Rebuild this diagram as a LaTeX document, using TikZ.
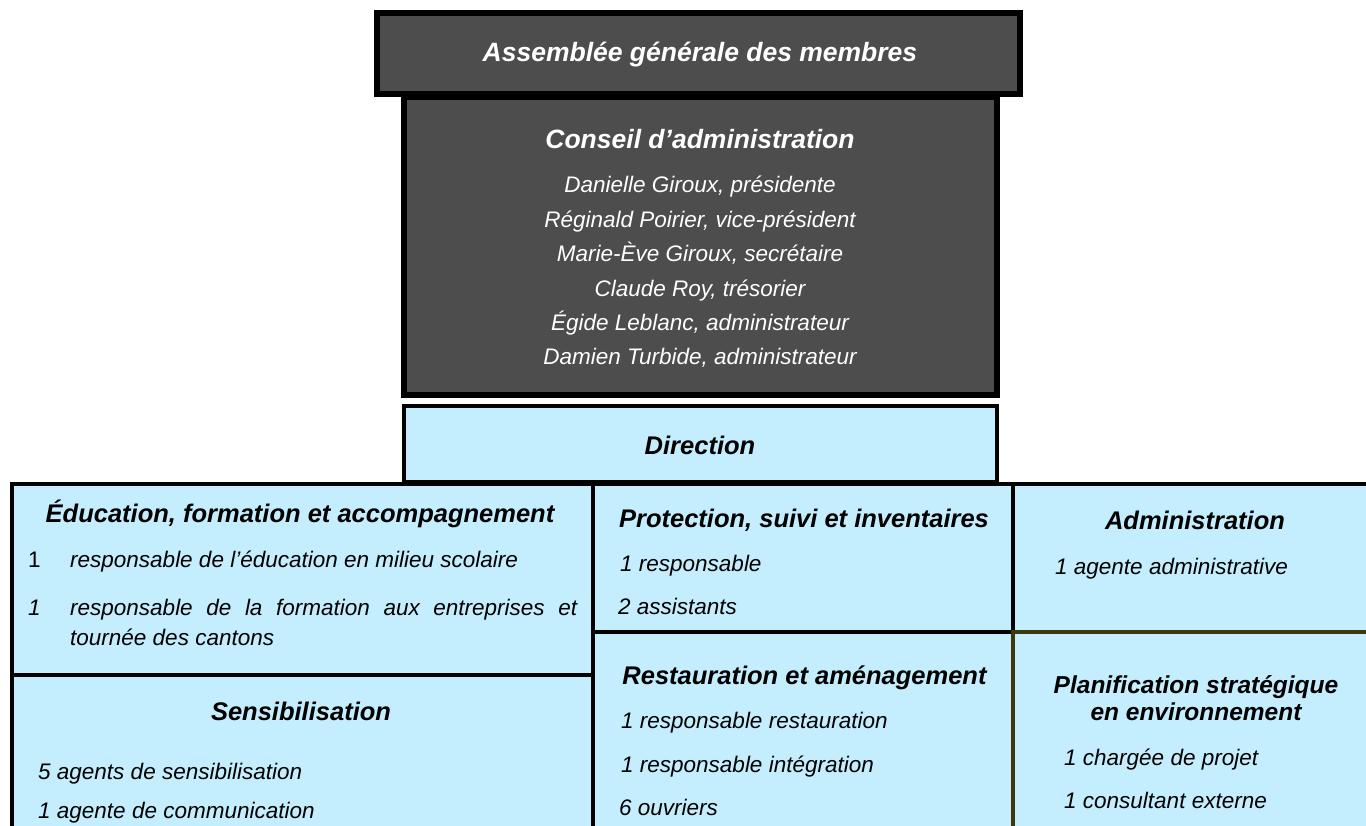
\documentclass[tikz,border=0pt]{standalone}
\usepackage{fontspec}
\setmainfont{Liberation Sans}
\definecolor{darkfill}{HTML}{4D4D4D}
\definecolor{lblue}{HTML}{C4EEFE}
\definecolor{oliveb}{HTML}{3C3A0A}
\begin{document}
\begin{tikzpicture}[x=1pt,y=-1pt,
  rbox/.style={draw=black, fill=lblue, line width=4.5pt, inner sep=0pt, outer sep=0pt},
  dbox/.style={draw=black, fill=darkfill, line width=6pt, inner sep=0pt, outer sep=0pt},
  ttl/.style={font=\fontsize{25.5}{29}\selectfont\bfseries\itshape, inner sep=0pt, anchor=base},
  wttl/.style={ttl, text=white},
  wtxt/.style={font=\fontsize{22.5}{26}\selectfont\itshape, inner sep=0pt, anchor=base, text=white},
  itm/.style={font=\fontsize{22.5}{28}\selectfont\itshape, inner sep=0pt, anchor=base west},
]
\useasboundingbox (0,0) rectangle (1366,826);
\clip (0,0) rectangle (1366,826);
\fill[white] (0,0) rectangle (1366,826);

% dark boxes
\node[dbox, minimum width=593pt, minimum height=298pt] (cons) at (700.5,246) {};
\node[dbox, minimum width=643pt, minimum height=81pt] (asm) at (698.5,53.5) {};
\node[rbox, line width=4pt, minimum width=593pt, minimum height=76pt] (dir) at (700.5,444) {};

% grid
\node[rbox, minimum width=581pt, minimum height=191pt] (edu) at (302.5,579.5) {};
\node[rbox, minimum width=581pt, minimum height=225pt] (sens) at (302.5,787.5) {};
\node[rbox, minimum width=420pt, minimum height=148pt] (prot) at (803,558) {};
\node[rbox, minimum width=420pt, minimum height=268pt] (rest) at (803,766) {};
\node[rbox, minimum width=387pt, minimum height=148pt] (admin) at (1206.5,558) {};
\node[rbox, draw=oliveb, minimum width=387pt, minimum height=268pt] (plan) at (1206.5,766) {};

% texts
\node[wttl, font=\fontsize{26.5}{30}\selectfont\bfseries\itshape] (asmt) at (700,62) {Assemblée générale des membres};
\node[wttl, font=\fontsize{26.5}{30}\selectfont\bfseries\itshape] (const) at (700,149) {Conseil d’administration};
\node[wtxt] (c1) at (700,193) {Danielle Giroux, présidente};
\node[wtxt] (c2) at (700,227.4) {Réginald Poirier, vice-président};
\node[wtxt] (c3) at (700,261.8) {Marie-Ève Giroux, secrétaire};
\node[wtxt] (c4) at (700,296.2) {Claude Roy, trésorier};
\node[wtxt] (c5) at (700,330.6) {Égide Leblanc, administrateur};
\node[wtxt] (c6) at (700,365) {Damien Turbide, administrateur};

\node[ttl] (dirt) at (700,454) {Direction};

\node[ttl] (edut) at (300,522) {Éducation, formation et accompagnement};
\node[itm, font=\fontsize{22.5}{28}\selectfont\upshape] (e1n) at (28,567) {1};
\node[itm] (e1) at (70,567) {responsable de l’éducation en milieu scolaire};
\node[itm] (e2n) at (28,615) {1};
\node[itm] (e2) at (70,615) {\parbox[t]{507pt}{\baselineskip=30pt responsable de la formation aux entreprises et\linebreak tournée des cantons}};

\node[ttl] (senst) at (301,720) {Sensibilisation};
\node[itm] (s1) at (38,779) {5 agents de sensibilisation};
\node[itm] (s2) at (38,818) {1 agente de communication};

\node[ttl] (prott) at (804,527) {Protection, suivi et inventaires};
\node[itm] (p1) at (620,571) {1 responsable};
\node[itm] (p2) at (618,614) {2 assistants};

\node[ttl] (restt) at (804.5,684) {Restauration et aménagement};
\node[itm] (r1) at (621,728) {1 responsable restauration};
\node[itm] (r2) at (621,772) {1 responsable intégration};
\node[itm] (r3) at (619,815) {6 ouvriers};

\node[ttl] (admint) at (1195,529) {Administration};
\node[itm] (a1) at (1055,574) {1 agente administrative};

\node[ttl, font=\fontsize{24.5}{28}\selectfont\bfseries\itshape] (plant1) at (1196,693) {Planification stratégique};
\node[ttl, font=\fontsize{24.5}{28}\selectfont\bfseries\itshape] (plant2) at (1196,720) {en environnement};
\node[itm] (pl1) at (1064,765) {1 chargée de projet};
\node[itm] (pl2) at (1064,808) {1 consultant externe};
\end{tikzpicture}
\end{document}
